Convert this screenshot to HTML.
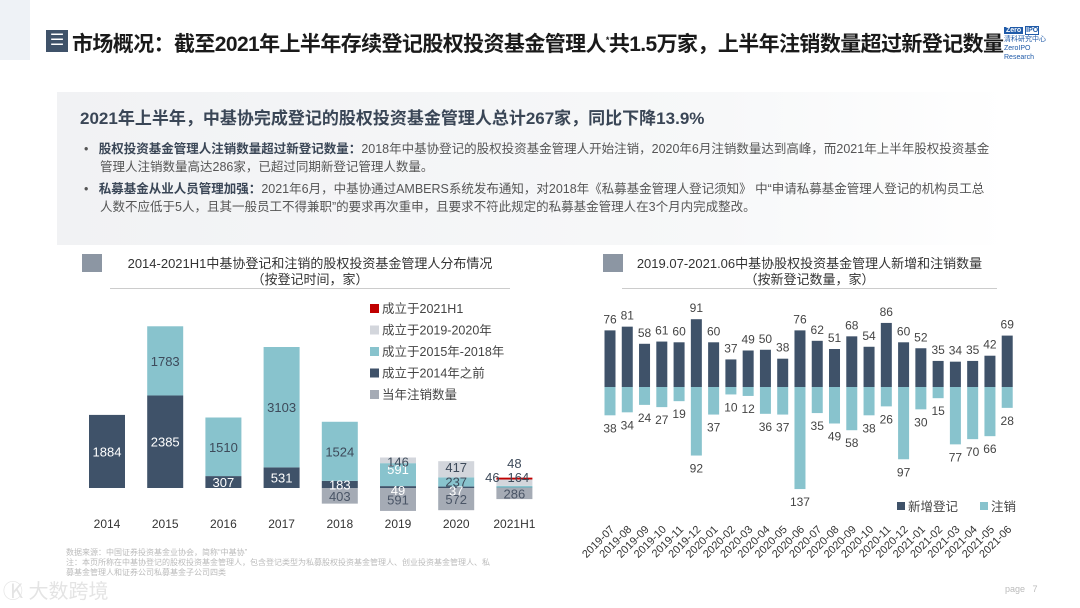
<!DOCTYPE html>
<html><head><meta charset="utf-8">
<style>
body{margin:0;width:1080px;height:608px;background:#fff;font-family:"Liberation Sans","Noto Sans CJK SC",sans-serif;overflow:hidden;position:relative}
.abs{position:absolute}
</style></head><body>
<div class="abs" style="left:0;top:0;width:30px;height:60px;background:#eef2f6"></div>
<div class="abs" style="left:46px;top:30px;width:22px;height:22px;background:#3f5269;color:#fff;font-size:16px;line-height:22px;text-align:center">☰</div>
<div class="abs" style="left:72px;top:28px;font-size:21px;font-weight:bold;color:#1a1a1a;white-space:nowrap;letter-spacing:-0.6px">市场概况：截至2021年上半年存续登记股权投资基金管理人<sup style="font-size:9px">*</sup>共1.5万家，上半年注销数量超过新登记数量</div>
<div class="abs" style="left:1004px;top:26px;width:52px;height:30px;font-size:7px;color:#1f5aa8;line-height:9px;background:#fff"><b style="background:#1f5aa8;color:#fff;padding:0 2px">Zero</b> <b style="border:1px solid #1f5aa8">IPO</b><br>清科研究中心<br>ZeroIPO Research</div>
<div class="abs" style="left:57px;top:92px;width:950px;height:153px;background:linear-gradient(90deg,#f1f2f4,#f7f8f9 70%,#fff)"></div>
<div class="abs" style="left:80px;top:104px;font-size:17px;font-weight:bold;color:#3a4656;white-space:nowrap">2021年上半年，中基协完成登记的股权投资基金管理人总计267家，同比下降13.9%</div>
<div class="abs" style="left:84px;top:140px;width:895px;font-size:12.5px;color:#555;line-height:18px;padding-left:16px;text-indent:-16px">•&nbsp;&nbsp;&nbsp;<b style="color:#3a4656">股权投资基金管理人注销数量超过新登记数量：</b>2018年中基协登记的股权投资基金管理人开始注销，2020年6月注销数量达到高峰，而2021年上半年股权投资基金管理人注销数量高达286家，已超过同期新登记管理人数量。</div>
<div class="abs" style="left:84px;top:180px;width:895px;font-size:12.5px;color:#555;line-height:18px;padding-left:16px;text-indent:-16px">•&nbsp;&nbsp;&nbsp;<b style="color:#3a4656">私募基金从业人员管理加强：</b>2021年6月，中基协通过AMBERS系统发布通知，对2018年《私募基金管理人登记须知》 中“申请私募基金管理人登记的机构员工总人数不应低于5人，且其一般员工不得兼职”的要求再次重申，且要求不符此规定的私募基金管理人在3个月内完成整改。</div>

<div class="abs" style="left:82px;top:254px;width:20px;height:18px;background:#8c96a3"></div>
<div class="abs" style="left:110px;top:256px;width:400px;font-size:13px;color:#333;line-height:16px;text-align:center;border-bottom:1px solid #ccc">2014-2021H1中基协登记和注销的股权投资基金管理人分布情况<br>（按登记时间，家）</div>
<div class="abs" style="left:603px;top:254px;width:20px;height:18px;background:#8c96a3"></div>
<div class="abs" style="left:622px;top:256px;width:375px;font-size:13px;color:#333;line-height:16px;text-align:center;border-bottom:1px solid #ccc">2019.07-2021.06中基协股权投资基金管理人新增和注销数量<br>（按新登记数量，家）</div>

<svg class="abs" style="left:0;top:0" width="1080" height="608" id="svg"></svg>

<div class="abs" style="left:66px;top:548px;font-size:8px;color:#bbb;line-height:10px">数据来源：中国证券投资基金业协会，简称“中基协”<br>注：本页所称在中基协登记的股权投资基金管理人，包含登记类型为私募股权投资基金管理人、创业投资基金管理人、私<br>募基金管理人和证券公司私募基金子公司四类</div>
<div class="abs" style="left:1005px;top:584px;font-size:9px;color:#bbb">page &nbsp; 7</div>
<div class="abs" style="left:10px;top:575px;font-size:20px;color:#e4e4e4">K⃝ 大数跨境</div>

<script>
const NS="http://www.w3.org/2000/svg";
const svg=document.getElementById('svg');
function el(t,a,txt){const e=document.createElementNS(NS,t);for(const k in a)e.setAttribute(k,a[k]);if(txt!==undefined)e.textContent=txt;svg.appendChild(e);return e;}

// ---- Left chart data ----
const years=["2014","2015","2016","2017","2018","2019","2020","2021H1"];
const dark2=[1884,2385,307,531,183,49,37,9];
const teal2=[0,1783,1510,3103,1524,591,237,46];
const y1920=[0,0,0,0,0,146,417,164];
const y21=[0,0,0,0,0,0,0,48];
const cancels=[0,0,0,0,403,591,572,286];

const L0=488, ls=0.0388;
const lx=i=>107+i*58.2, ly=v=>v*ls;
const C={dark:"#3f5269",teal:"#88c3cd",lg:"#d3d6dc",red:"#c00000",cg:"#a5abb5"};
years.forEach((y,i)=>{
  const cx=lx(i),w=36;
  let base=L0;
  const segs=[[dark2[i],C.dark,'bar-pre2014-'+y],[teal2[i],C.teal,'bar-2015-2018-'+y],[y1920[i],C.lg,'bar-2019-2020-'+y],[y21[i],C.red,'bar-2021h1-'+y]];
  segs.forEach(s=>{if(!s[0])return;const h=ly(s[0]);base-=h;
    const r=el('rect',{x:cx-w/2,y:base,width:w,height:h,fill:s[1]});
    
    });
  if(cancels[i]){const r=el('rect',{x:cx-w/2,y:L0,width:w,height:ly(cancels[i]),fill:C.cg});
    
    
    el('text',{x:cx,y:L0+ly(cancels[i])/2+5,'text-anchor':'middle','font-size':13,fill:'#4a5566'},cancels[i]);}
  const t=el('text',{x:cx,y:528,'text-anchor':'middle','font-size':12,fill:'#333'},y);
  
  
});
function lab(x,y,s,c){el('text',{x:x,y:y,'text-anchor':'middle','font-size':13,fill:c},s);}
[0,1,2,3,4].forEach(i=>{const h=ly(dark2[i]);lab(lx(i),L0-h/2+5,dark2[i],'#fff');
  if(teal2[i]){const h2=ly(teal2[i]);lab(lx(i),L0-h-h2/2+5,teal2[i],'#3d4a5a');}});
lab(lx(5),L0-ly(dark2[5])+9,dark2[5],'#fff');lab(lx(5),L0-ly(dark2[5]+teal2[5])+11,teal2[5],'#fff');lab(lx(5),L0-ly(dark2[5]+teal2[5]+y1920[5])+9,y1920[5],'#3d4a5a');
lab(lx(6),L0-ly(dark2[6])+9,dark2[6],'#fff');lab(lx(6),L0-ly(dark2[6]+teal2[6])+9,teal2[6],'#3d4a5a');lab(lx(6),L0-ly(dark2[6]+teal2[6]+y1920[6])+11,y1920[6],'#3d4a5a');
lab(lx(7)-22,L0-6,teal2[7],'#3d4a5a');lab(lx(7)+4,L0-6,y1920[7],'#3d4a5a');lab(lx(7),L0-20,y21[7],'#3d4a5a');
const legN=["成立于2021H1","成立于2019-2020年","成立于2015年-2018年","成立于2014年之前","当年注销数量"];
const legC=[C.red,C.lg,C.teal,C.dark,C.cg];
legN.forEach((n,i)=>{const y=313+i*21.5;
  const r=el('rect',{x:370,y:y-9,width:9,height:9,fill:legC[i]});
  
  
  const t=el('text',{x:382,y:y,'font-size':12.5,fill:'#444'},n);
  
  });

// ---- Right chart data ----
const months=["2019-07","2019-08","2019-09","2019-10","2019-11","2019-12","2020-01","2020-02","2020-03","2020-04","2020-05","2020-06","2020-07","2020-08","2020-09","2020-10","2020-11","2020-12","2021-01","2021-02","2021-03","2021-04","2021-05","2021-06"];
const newReg=[76,81,58,61,60,91,60,37,49,50,38,76,62,51,68,54,86,60,52,35,34,35,42,69];
const cancelM=[38,34,24,27,19,92,37,10,12,36,37,137,35,49,58,38,26,97,30,15,77,70,66,28];
const R0=387, rs=0.745;
const rx=i=>610+i*17.27;
months.forEach((m,i)=>{
  const cx=rx(i),w=11;
  const h1=newReg[i]*rs,h2=cancelM[i]*rs;
  const a=el('rect',{x:cx-w/2,y:R0-h1,width:w,height:h1,fill:C.dark});
  
  
  const b=el('rect',{x:cx-w/2,y:R0,width:w,height:h2,fill:C.teal});
  
  
  el('text',{x:cx,y:R0-h1-7,'text-anchor':'middle','font-size':12,fill:'#444'},newReg[i]);
  el('text',{x:cx,y:R0+h2+17,'text-anchor':'middle','font-size':12,fill:'#444'},cancelM[i]);
  const t=el('text',{x:cx+5,y:530,'text-anchor':'end','font-size':11,fill:'#333',transform:`rotate(-45 ${cx+5} 530)`},m);
  
  
});
[["新增登记",C.dark,897],["注销",C.teal,980]].forEach((l,i)=>{
  const r=el('rect',{x:l[2],y:502,width:8,height:8,fill:l[1]});
  
  
  const t=el('text',{x:l[2]+11,y:511,'font-size':12.5,fill:'#444'},l[0]);
  
  });
</script>
</body></html>
